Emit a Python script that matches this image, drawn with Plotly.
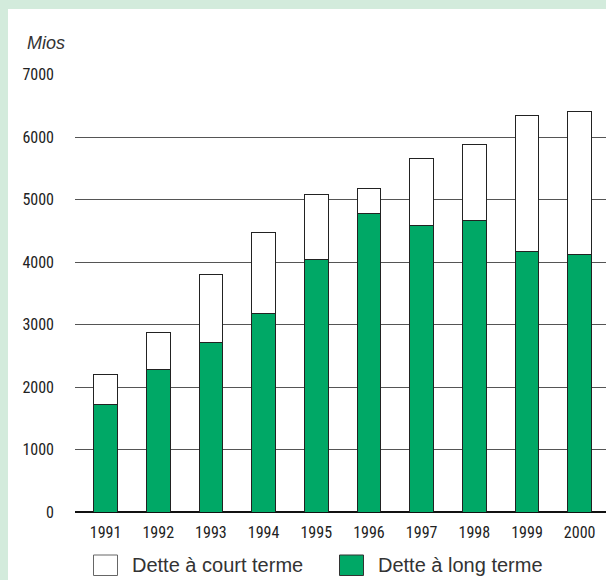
import plotly.graph_objects as go

years = ["1991", "1992", "1993", "1994", "1995", "1996", "1997", "1998", "1999", "2000"]
long_term = [1720, 2286, 2713, 3175, 4048, 4770, 4584, 4664, 4164, 4121]
total_debt = [2200, 2877, 3802, 4478, 5075, 5180, 5652, 5882, 6338, 6408]
short_term = [t - l for t, l in zip(total_debt, long_term)]
y_ticks = [0, 1000, 2000, 3000, 4000, 5000, 6000, 7000]
series_names = ["Dette à court terme", "Dette à long terme"]
y_unit = "Mios"

GREEN = "#00a866"
BG_GREEN = "#d3ebdc"
W, H = 606, 580
ML, MR, MT, MB = 75, 0, 74, 68
PW = W - ML - MR
PH = H - MT - MB


def px_x(px):
    return (px - ML) / PW


def px_y(py):
    return (H - MB - py) / PH


fig = go.Figure()
fig.add_trace(go.Bar(
    x=years, y=long_term, name=series_names[1],
    marker=dict(color=GREEN, line=dict(color="#222222", width=1)),
    width=0.45, showlegend=False, hoverinfo="skip",
))
fig.add_trace(go.Bar(
    x=years, y=short_term, name=series_names[0],
    marker=dict(color="white", line=dict(color="#222222", width=1)),
    width=0.45, showlegend=False, hoverinfo="skip",
))

tick_font = dict(
    family="Noto Sans Condensed, Roboto Condensed, DejaVu Sans Condensed, "
           "Open Sans Condensed Light, Liberation Sans, sans-serif",
    size=16, color="#222222", weight=400)

fig.update_layout(
    width=W, height=H,
    margin=dict(l=ML, r=MR, t=MT, b=MB, pad=0),
    barmode="stack",
    paper_bgcolor=BG_GREEN,
    plot_bgcolor="white",
    xaxis=dict(
        type="category", range=[-0.58, 9.5],
        showgrid=False, zeroline=False, showline=False,
        ticks="", tickfont=tick_font, ticklabelstandoff=9,
    ),
    yaxis=dict(
        range=[0, 7010], tickvals=y_ticks,
        showgrid=True, gridcolor="#555555", gridwidth=1,
        zeroline=True, zerolinecolor="#111111", zerolinewidth=1.5,
        showline=False, ticks="", tickfont=tick_font, ticklabelstandoff=20,
    ),
    shapes=[
        dict(type="rect", xref="paper", yref="paper", layer="below",
             x0=px_x(8), x1=px_x(W + 5), y0=px_y(H + 5), y1=px_y(9),
             fillcolor="white", line=dict(width=0)),
        dict(type="rect", xref="paper", yref="paper",
             x0=px_x(93.5), x1=px_x(117.5), y0=px_y(575.5), y1=px_y(555),
             fillcolor="white", line=dict(color="#666666", width=1)),
        dict(type="rect", xref="paper", yref="paper",
             x0=px_x(339.5), x1=px_x(363.5), y0=px_y(575.5), y1=px_y(555),
             fillcolor=GREEN, line=dict(color="#333333", width=1)),
    ],
    annotations=[
        dict(text=y_unit, xref="paper", yref="paper", x=px_x(25), y=px_y(43),
             xanchor="left", yanchor="middle", showarrow=False,
             font=dict(family="Liberation Sans, Arial, sans-serif", size=18,
                       color="#333333", style="italic")),
        dict(text=series_names[0], xref="paper", yref="paper", x=px_x(130), y=px_y(565),
             xanchor="left", yanchor="middle", showarrow=False,
             font=dict(family="Liberation Sans, Arial, sans-serif", size=20, color="#333333")),
        dict(text=series_names[1], xref="paper", yref="paper", x=px_x(376), y=px_y(565),
             xanchor="left", yanchor="middle", showarrow=False,
             font=dict(family="Liberation Sans, Arial, sans-serif", size=20, color="#333333")),
    ],
)

fig.write_html(
    "out.html",
    config={"displayModeBar": False},
    post_script="document.body.style.margin='0';document.body.style.padding='0';"
                "document.body.style.overflow='hidden';",
)
